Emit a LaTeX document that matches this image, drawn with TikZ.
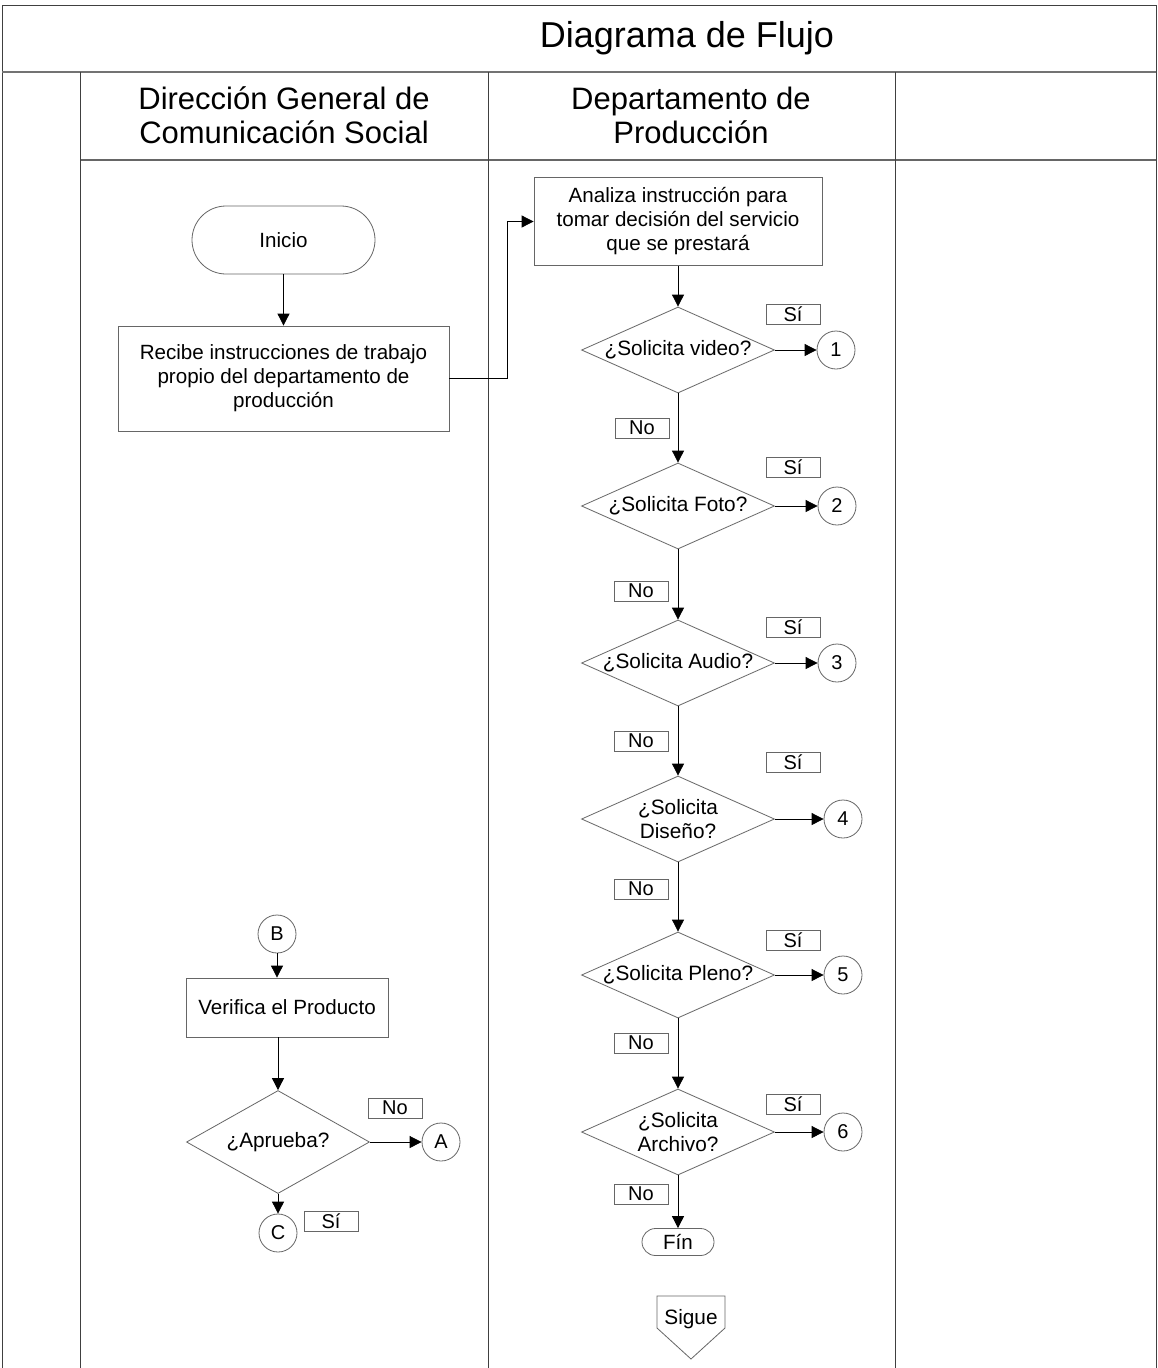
\documentclass[tikz,border=0pt]{standalone}
\usepackage{fontspec}
\setmainfont{Liberation Sans}
\usetikzlibrary{shapes.geometric,arrows.meta}
\begin{document}
\begin{tikzpicture}[x=1pt,y=-1pt,
  frame/.style={draw=black!75, line width=0.9pt},
  shp/.style={draw=black!60, line width=0.8pt},
  txt/.style={inner sep=0pt, align=center, font=\fontsize{20.8}{23.5}\selectfont},
  proc/.style={shp, rectangle, inner sep=0pt, align=center, font=\fontsize{20.6}{24}\selectfont},
  term/.style={proc, rounded corners=#1},
  dia/.style={shp, diamond, inner sep=0pt, minimum width=193pt, minimum height=86pt},
  conn/.style={shp, circle, inner sep=0pt, minimum size=38pt, font=\fontsize{20}{23}\selectfont},
  lab/.style={shp, rectangle, inner sep=0pt, minimum width=54pt, minimum height=20pt, font=\fontsize{20}{20}\selectfont},
  arr/.style={black, line width=0.8pt, -{Triangle[length=12pt,width=12pt]}},
  hdr/.style={inner sep=0pt, align=center, font=\fontsize{31}{34}\selectfont}
]
\useasboundingbox (0,0) rectangle (1157,1368);
\fill[white] (0,0) rectangle (1157,1368);
% frame
\draw[frame] (2,1368) -- (2,5) -- (1156,5) -- (1156,1368);
\draw[draw=black!55, line width=1.8pt] (2,72) -- (1156,72);
\draw[draw=black!60, line width=1.2pt] (80,160) -- (1156,160);
\draw[frame] (80,72) -- (80,1368);
\draw[frame] (488,72) -- (488,1368);
\draw[frame] (895,72) -- (895,1368);
% headers
\node[hdr, font=\fontsize{36}{40}\selectfont] (title) at (687,38) {Diagrama de Flujo};
\node[hdr] (lane1) at (284,115) {Dirección General de\\Comunicación Social};
\node[hdr] (lane2) at (691,115) {Departamento de\\Producción};
% left lane top
\node[term=34pt, minimum width=183pt, minimum height=68pt] (inicio) at (283.5,240) {Inicio};
\node[proc, minimum width=331pt, minimum height=105pt] (recibe) at (283.5,378.5) {Recibe instrucciones de trabajo\\propio del departamento de\\producción};
% right lane
\node[proc, minimum width=288pt, minimum height=88pt] (analiza) at (678,221.5) {Analiza instrucción para\\tomar decisión del servicio\\que se prestará};
\node[dia] (d1) at (678,350) {};
\node[txt] (d1t) at (d1) {¿Solicita video?};
\node[dia] (d2) at (678,506) {};
\node[txt] (d2t) at (d2) {¿Solicita Foto?};
\node[dia] (d3) at (678,663) {};
\node[txt] (d3t) at (d3) {¿Solicita Audio?};
\node[dia] (d4) at (678,819) {};
\node[txt] (d4t) at (d4) {¿Solicita\\Diseño?};
\node[dia] (d5) at (678,975) {};
\node[txt] (d5t) at (d5) {¿Solicita Pleno?};
\node[dia] (d6) at (678,1132) {};
\node[txt] (d6t) at (d6) {¿Solicita\\Archivo?};
\node[conn] (c1) at (836,350) {1};
\node[conn] (c2) at (837,506) {2};
\node[conn] (c3) at (837,663) {3};
\node[conn] (c4) at (843,819) {4};
\node[conn] (c5) at (843,975) {5};
\node[conn] (c6) at (843,1132) {6};
\node[lab] (s1) at (793,314) {Sí};
\node[lab] (s2) at (793,467) {Sí};
\node[lab] (s3) at (793,627) {Sí};
\node[lab] (s4) at (793,762) {Sí};
\node[lab] (s5) at (793,940) {Sí};
\node[lab] (s6) at (793,1104) {Sí};
\node[lab] (n1) at (642,428) {No};
\node[lab] (n2) at (641,591) {No};
\node[lab] (n3) at (641,741) {No};
\node[lab] (n4) at (641,889) {No};
\node[lab] (n5) at (641,1043) {No};
\node[lab] (n6) at (641,1194) {No};
\node[term=13.5pt, minimum width=72pt, minimum height=27pt] (fin) at (678,1242) {Fín};
\node[txt] (sigue) at (691,1319) {Sigue};
\draw[shp] (657,1296) -- (725,1296) -- (725,1328) -- (691,1359) -- (657,1328) -- cycle;
% left lane bottom
\node[conn] (B) at (277,934) {B};
\node[proc, minimum width=202pt, minimum height=59pt] (verifica) at (287,1007.5) {Verifica el Producto};
\node[dia, minimum width=183pt, minimum height=103pt] (apr) at (278,1142) {};
\node[txt] (aprt) at (apr) {¿Aprueba?};
\node[conn] (A) at (441,1142) {A};
\node[conn] (C) at (278,1233) {C};
\node[lab] (noA) at (395,1108) {No};
\node[lab] (siC) at (331,1221) {Sí};
% connectors
\coordinate (bend) at (507,0);
\draw[arr] (inicio) -- (recibe);
\draw[arr] (recibe.east) -- (recibe.east -| bend) |- (analiza.west);
\draw[arr] (analiza) -- (d1);
\draw[arr] (d1) -- (d2);
\draw[arr] (d2) -- (d3);
\draw[arr] (d3) -- (d4);
\draw[arr] (d4) -- (d5);
\draw[arr] (d5) -- (d6);
\draw[arr] (d6) -- (fin);
\draw[arr] (d1) -- (c1);
\draw[arr] (d2) -- (c2);
\draw[arr] (d3) -- (c3);
\draw[arr] (d4.east) -- (c4);
\draw[arr] (d5.east) -- (c5);
\draw[arr] (d6.east) -- (c6);
\draw[arr] (B) -- (B |- verifica.north);
\draw[arr] (verifica.south -| apr) -- (apr);
\draw[arr] (apr) -- (A);
\draw[arr] (apr) -- (C);
\end{tikzpicture}
\end{document}
